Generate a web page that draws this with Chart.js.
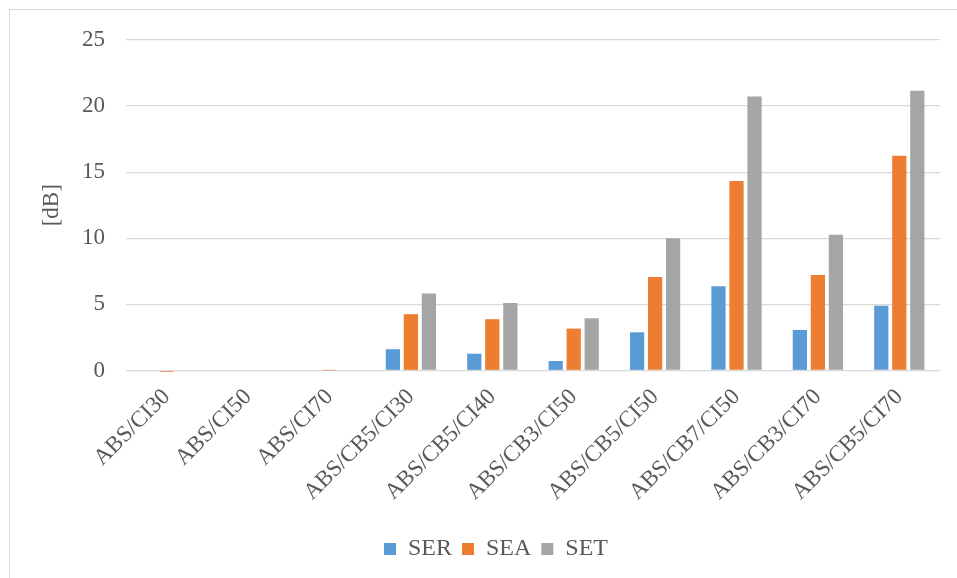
<!DOCTYPE html>
<html>
<head>
<meta charset="utf-8">
<script src="https://cdn.jsdelivr.net/npm/chart.js@4/dist/chart.umd.min.js"></script>
<style>
  html, body { margin: 0; padding: 0; background: #ffffff; }
  #wrap { width: 957px; height: 578px; position: relative; }
</style>
</head>
<body>
<div id="wrap"><canvas id="c" width="957" height="578"></canvas></div>
<script>
const categories = ["ABS/CI30", "ABS/CI50", "ABS/CI70", "ABS/CB5/CI30", "ABS/CB5/CI40", "ABS/CB3/CI50", "ABS/CB5/CI50", "ABS/CB7/CI50", "ABS/CB3/CI70", "ABS/CB5/CI70"];
const SER = [0, 0, 0, 1.61, 1.27, 0.72, 2.89, 6.38, 3.07, 4.89];
const SEA = [-0.1, -0.05, 0.01, 4.26, 3.88, 3.17, 7.08, 14.33, 7.23, 16.25];
const SET = [0, 0, 0, 5.82, 5.11, 3.95, 10.0, 20.72, 10.26, 21.17];
const yTicks = [0, 5, 10, 15, 20, 25];
const seriesNames = ["SER", "SEA", "SET"];

const FONT = "'Liberation Serif', 'Times New Roman', serif";
const TXT = "#595959";
const GRID = "#D9D9D9";

const frame = {
  id: 'frame',
  beforeDraw(chart) {
    const ctx = chart.ctx;
    ctx.save();
    ctx.fillStyle = '#ffffff';
    ctx.fillRect(0, 0, chart.width, chart.height);
    ctx.strokeStyle = GRID;
    ctx.lineWidth = 1;
    ctx.strokeRect(9.5, 9.5, 1200, 1200);
    ctx.restore();
  }
};

const colors = ["#5B9BD5", "#ED7D31", "#A5A5A5"];
const seriesData = [SER, SEA, SET];

new Chart(document.getElementById('c'), {
  type: 'bar',
  data: {
    labels: categories,
    datasets: seriesNames.map((n, i) => ({
      label: n,
      data: seriesData[i],
      backgroundColor: colors[i],
      borderWidth: 0,
      categoryPercentage: 0.664,
      barPercentage: 0.79,
      clip: false,
      yAxisID: 'y'
    }))
  },
  options: {
    responsive: false,
    animation: false,
    devicePixelRatio: 1,
    layout: { padding: { left: 38, right: 3, top: 40, bottom: 7 } },
    plugins: {
      tooltip: { enabled: false },
      legend: {
        position: 'bottom',
        labels: {
          font: { family: FONT, size: 24 },
          color: TXT,
          boxWidth: 12,
          boxHeight: 12,
          padding: 10
        }
      }
    },
    scales: {
      x: {
        grid: { display: false },
        border: { display: false },
        ticks: {
          font: { family: FONT, size: 23 },
          color: TXT,
          maxRotation: 45,
          minRotation: 45,
          autoSkip: false,
          padding: 5
        },
        afterFit(scale) { scale.height = 156.5; }
      },
      y: {
        min: 0,
        max: 25,
        afterBuildTicks(scale) { scale.ticks = yTicks.map(v => ({ value: v })); },
        grid: { color: GRID, lineWidth: 1.3, drawTicks: false },
        border: { display: false },
        ticks: {
          font: { family: FONT, size: 23 },
          color: TXT,
          padding: 21
        },
        title: {
          display: true,
          text: '[dB]',
          font: { family: FONT, size: 23 },
          color: TXT,
          padding: { top: 0, bottom: 0 }
        },
        afterFit(scale) { scale.width = 88; }
      },
      yRight: {
        position: 'right',
        min: 0,
        max: 25,
        grid: { display: false, drawTicks: false },
        border: { display: false },
        ticks: { display: false },
        afterFit(scale) { scale.width = 14; }
      }
    }
  },
  plugins: [frame]
});
</script>
</body>
</html>
